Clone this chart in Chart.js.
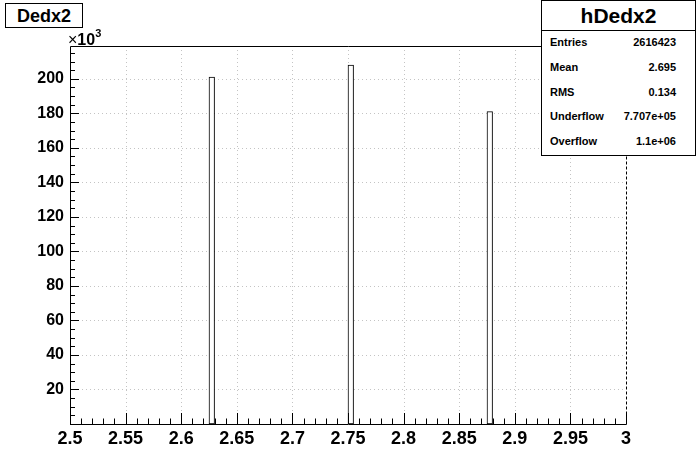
<!DOCTYPE html>
<html>
<head>
<meta charset="utf-8">
<script src="https://cdn.jsdelivr.net/npm/chart.js@4/dist/chart.umd.min.js"></script>
<style>
    body { margin: 0; background: #fff; }
    #wrap { position: relative; width: 696px; height: 472px; font-family: "Liberation Sans", Arial, sans-serif; }
    #histo { position: absolute; left: 0; top: 0; }
    .titlebox { position: absolute; left: 5px; top: 3px; width: 76px; height: 23px; border: 1px solid #000;
        background: #fff; font-weight: bold; font-size: 18px; text-align: center; line-height: 24px; }
    .expo { position: absolute; left: 68px; top: 29px; font-size: 16px; font-weight: bold; }
    .expo .x { font-weight: normal; }
    .expo sup { font-size: 11px; position: relative; top: -2px; }
    .stats { position: absolute; left: 541px; top: 0; width: 153px; height: 154px; border: 1px solid #000;
        background: #fff; font-weight: bold; }
    .stats .head { height: 29px; border-bottom: 1px solid #000; font-size: 21px; text-align: center; line-height: 29px; }
    .stats .row { position: absolute; left: 8px; right: 19px; font-size: 11px; height: 14px; line-height: 14px; }
    .stats .row span:last-child { float: right; }
</style>
</head>
<body>
<div id="wrap">
    <canvas id="histo" width="696" height="472"></canvas>
    <div class="titlebox">Dedx2</div>
    <div class="expo"><span class="x">×</span>10<sup>3</sup></div>
    <div class="stats" id="stats"><div class="head">hDedx2</div></div>
</div>
<script>
"use strict";

// Histogram: 100 bins between 2.5 and 3, only three bins are filled
const xMin = 2.5;
const xMax = 3.0;
const nBins = 100;
const binLow = [2.625, 2.75, 2.875];
const binCounts = [201000, 208000, 181000];

// Y-axis tick labels (in units of 10^3)
const yTicks = [20, 40, 60, 80, 100, 120, 140, 160, 180, 200];
const yMax = 219000;

// Stats box
const statNames = ["Entries", "Mean", "RMS", "Underflow", "Overflow"];
const statValues = ["2616423", "2.695", "0.134", "7.707e+05", "1.1e+06"];

// Fill the stats box
const statsBox = document.getElementById("stats");
statNames.forEach((name, i) => {
    const row = document.createElement("div");
    row.className = "row";
    row.style.top = (34 + i * 24.8) + "px";
    row.innerHTML = "<span>" + name + "</span><span>" + statValues[i] + "</span>";
    statsBox.appendChild(row);
});

// Build histogram points (empty bins = null so bar width follows bin width)
const binWidth = (xMax - xMin) / nBins;
const points = [];
for (let i = 0; i < nBins; i++) {
    const lo = xMin + i * binWidth;
    let y = null;
    binLow.forEach((b, j) => {
        if (Math.abs(b - lo) < binWidth / 2) y = binCounts[j];
    });
    points.push({ x: lo + binWidth / 2, y: y });
}

// Grid, tick marks and frame in ROOT style
const rootAxes = {
    id: "rootAxes",
    beforeDatasetsDraw(chart) {
        const { ctx, chartArea: a, scales } = chart;
        ctx.save();
        ctx.strokeStyle = "#c4c4c4";
        ctx.lineWidth = 1;
        ctx.setLineDash([1, 3]);
        for (let k = 1; k < 10; k++) {
            const px = Math.round(scales.x.getPixelForValue(xMin + k * 0.05)) + 0.5;
            ctx.beginPath(); ctx.moveTo(px, a.top); ctx.lineTo(px, a.bottom); ctx.stroke();
        }
        yTicks.forEach(t => {
            const py = Math.round(scales.y.getPixelForValue(t * 1000)) + 0.5;
            ctx.beginPath(); ctx.moveTo(a.left, py); ctx.lineTo(a.right, py); ctx.stroke();
        });
        ctx.restore();
    },
    afterDatasetsDraw(chart) {
        const { ctx, chartArea: a, scales } = chart;
        ctx.save();
        ctx.strokeStyle = "#000";
        ctx.lineWidth = 1;
        // x ticks: minor every 0.01, major every 0.05
        for (let k = 0; k <= 50; k++) {
            const px = Math.round(scales.x.getPixelForValue(xMin + k * 0.01)) + 0.5;
            const len = (k % 5 === 0) ? 11 : 5.5;
            ctx.beginPath(); ctx.moveTo(px, a.bottom); ctx.lineTo(px, a.bottom - len); ctx.stroke();
        }
        // y ticks: minor every 5k, major every 20k
        for (let k = 0; k * 5000 <= yMax; k++) {
            const py = Math.round(scales.y.getPixelForValue(k * 5000)) + 0.5;
            const len = (k % 4 === 0) ? 9 : 5;
            ctx.beginPath(); ctx.moveTo(a.left, py); ctx.lineTo(a.left + len, py); ctx.stroke();
        }
        // frame
        const l = Math.round(a.left) + 0.5, r = Math.round(a.right) + 0.5;
        const t = Math.round(a.top) + 0.5, b = Math.round(a.bottom) + 0.5;
        ctx.beginPath(); ctx.moveTo(l, t); ctx.lineTo(l, b); ctx.lineTo(r, b); ctx.stroke();
        ctx.beginPath(); ctx.moveTo(l, t); ctx.lineTo(r, t); ctx.stroke();
        ctx.setLineDash([3, 2]);
        ctx.beginPath(); ctx.moveTo(r, t); ctx.lineTo(r, b); ctx.stroke();
        ctx.restore();
    }
};

const ctx = document.getElementById("histo");

new Chart(ctx, {
    type: "bar",
    data: {
        datasets: [{
            label: "hDedx2",
            data: points,
            backgroundColor: "#ffffff",
            borderColor: "#000000",
            borderWidth: 1,
            borderSkipped: false,
            barPercentage: 1,
            categoryPercentage: 1
        }]
    },
    options: {
        responsive: false,
        animation: false,
        events: [],
        layout: { padding: { left: 0, top: 46, right: 70, bottom: 0 } },
        plugins: { legend: { display: false }, tooltip: { enabled: false } },
        scales: {
            x: {
                type: "linear",
                offset: false,
                min: xMin,
                max: xMax,
                grid: { display: false, drawTicks: false },
                border: { display: false },
                afterFit: (s) => { s.height = 48; },
                ticks: {
                    stepSize: 0.05,
                    padding: 4,
                    maxRotation: 0,
                    autoSkip: false,
                    color: "#000",
                    font: { family: "Liberation Sans", size: 18, weight: "bold" },
                    callback: (v) => parseFloat(v.toFixed(2)).toString()
                }
            },
            y: {
                type: "linear",
                min: 0,
                max: yMax,
                grid: { display: false, drawTicks: false },
                border: { display: false },
                afterFit: (s) => { s.width = 70; },
                afterBuildTicks: (s) => { s.ticks = yTicks.map(t => ({ value: t * 1000 })); },
                ticks: {
                    padding: 6,
                    autoSkip: false,
                    color: "#000",
                    font: { family: "Liberation Sans", size: 16, weight: "bold" },
                    callback: (v) => String(Math.round(v / 1000))
                }
            }
        }
    },
    plugins: [rootAxes]
});
</script>
</body>
</html>
